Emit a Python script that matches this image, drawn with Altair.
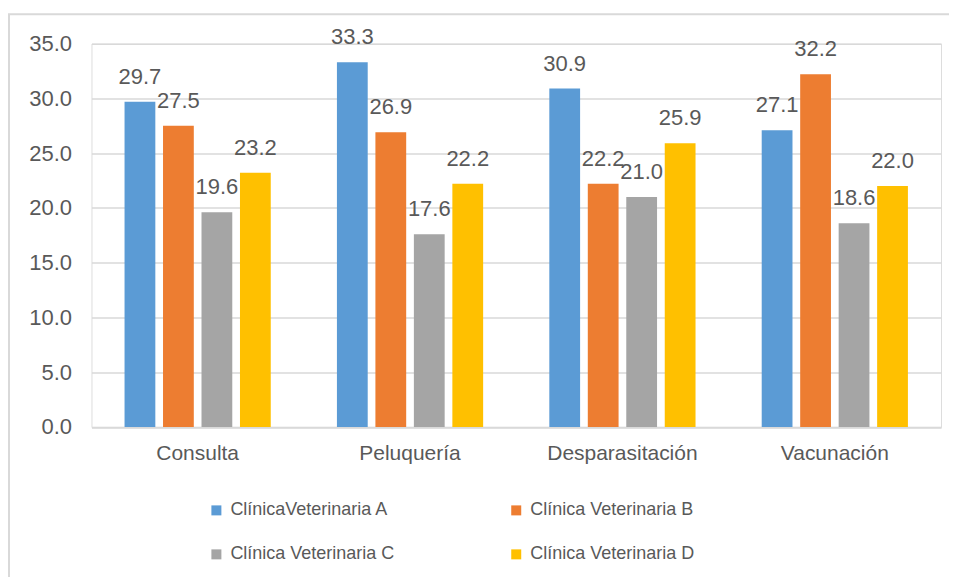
import altair as alt
import pandas as pd

categories = ["Consulta", "Peluquería", "Desparasitación", "Vacunación"]
series = ["ClínicaVeterinaria A", "Clínica Veterinaria B", "Clínica Veterinaria C", "Clínica Veterinaria D"]
values_a = [29.7, 33.3, 30.9, 27.1]
values_b = [27.5, 26.9, 22.2, 32.2]
values_c = [19.6, 17.6, 21.0, 18.6]
values_d = [23.2, 22.2, 25.9, 22.0]
colors = ["#5B9BD5", "#ED7D31", "#A5A5A5", "#FFC000"]
y_ticks = [0, 5, 10, 15, 20, 25, 30, 35]

rows = []
for s, vals in zip(series, [values_a, values_b, values_c, values_d]):
    for c, v in zip(categories, vals):
        rows.append({"Servicio": c, "Clinica": s, "Valor": v})
df = pd.DataFrame(rows)

FONT = "Liberation Sans"
TXT = "#595959"

x_enc = alt.X("Servicio:N", sort=categories,
              scale=alt.Scale(paddingInner=0, paddingOuter=0),
              axis=alt.Axis(title=None, labelAngle=0, labelFontSize=21, labelColor=TXT,
                            labelFont=FONT, ticks=False, domainColor="#D9D9D9",
                            domainWidth=1.5, labelPadding=16))
xo_enc = alt.XOffset("Clinica:N", sort=series,
                     scale=alt.Scale(paddingInner=0.2, paddingOuter=0.86))
y_enc = alt.Y("Valor:Q", scale=alt.Scale(domain=[0, 35], nice=False),
              axis=alt.Axis(title=None, values=y_ticks, format=".1f", labelFontSize=22,
                            labelColor=TXT, labelFont=FONT, ticks=False, domain=False,
                            gridColor="#D9D9D9", gridWidth=1.5, labelPadding=20))

border = alt.Chart(pd.DataFrame({"b": [0]})).mark_rect(
    fill="white", fillOpacity=0, stroke="#D9D9D9", strokeWidth=2
).encode(x=alt.value(-82.5), x2=alt.value(900), y=alt.value(-29.5), y2=alt.value(600))

bars = alt.Chart(df).mark_bar().encode(
    x=x_enc, xOffset=xo_enc, y=y_enc,
    color=alt.Color("Clinica:N", sort=series,
                    scale=alt.Scale(domain=series, range=colors),
                    legend=alt.Legend(title=None, orient="none", legendX=116, legendY=458,
                                      direction="horizontal",
                                      columns=2, columnPadding=112, rowPadding=26,
                                      symbolType="square", symbolSize=100,
                                      symbolStrokeWidth=0, labelFontSize=18,
                                      labelColor=TXT, labelFont=FONT, labelOffset=5,
                                      labelLimit=400)),
)

labels = alt.Chart(df).mark_text(
    baseline="alphabetic", dy=-18, fontSize=22, color=TXT, font=FONT
).encode(x=x_enc, xOffset=xo_enc, y=y_enc,
         text=alt.Text("Valor:Q", format=".1f"))

chart = alt.layer(border, bars, labels).properties(
    width=850, height=383.5,
    autosize=alt.AutoSizeParams(type="none"),
    padding={"left": 83.5, "top": 35.5, "right": 8, "bottom": 150},
).configure_view(stroke=None).configure(background="white")

chart.save("out.html", embed_options={"renderer": "svg", "actions": False})
